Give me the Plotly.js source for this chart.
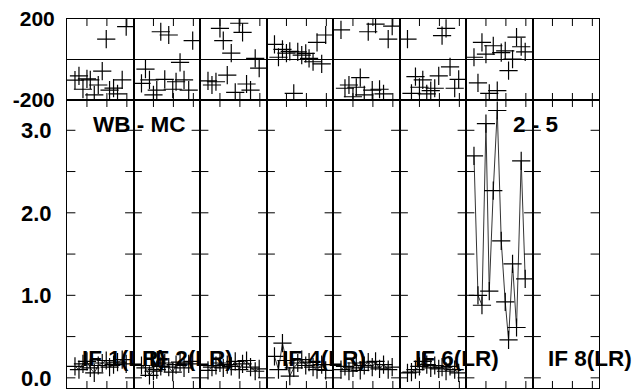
<!DOCTYPE html>
<html>
<head>
<meta charset="utf-8">
<script src="https://cdn.plot.ly/plotly-3.0.1.min.js"></script>
<style>html,body{margin:0;padding:0;background:#fff;}#chart{width:636px;height:391px;}</style>
</head>
<body>
<div id="chart"></div>
<script>
// Time samples (arbitrary units across each IF panel)
var times = [1.2, 1.8, 2.4, 3.0, 3.5, 4.1, 4.7, 5.3, 5.9, 6.4, 7.0, 7.6, 8.3, 8.9];

var ifLabels = ["IF 1(LR)", "IF 2(LR)", "", "IF 4(LR)", "", "IF 6(LR)", "", "IF 8(LR)"];

// Phase (degrees) per IF
var phaseIF1 = [-102, -81, -147, -96, -101, -175, -126, -57, 101, -151, -141, -170, -101, 162];
var phaseIF2 = [-118, -48, -101, -175, -151, 137, -98, 121, -147, -110, -14, -101, -151, 93];
var phaseIF3 = [-106, -126, -110, 154, 93, -77, 31, -162, 179, 134, -121, -151, 6, -43];
var phaseIF4 = [75, 11, 50, 31, 40, -167, 38, 22, 30, 6, -11, 85, -22, 121];
var phaseIF5 = [146, -142, -126, -184, -137, -90, -175, 137, -151, 175, -147, -170, 101, 165];
var phaseIF6 = [101, -167, -85, -137, -101, -170, -154, -142, -81, 118, 154, -36, -142, -98];
var phaseIF7 = [11, -115, 85, 27, -167, 68, -154, 34, 43, -55, 2, 110, 63, 38];
var phaseIF8 = [];

// Amplitude per IF
var ampIF1 = [0.14, 0.10, 0.17, 0.20, 0.12, 0.06, 0.15, 0.18, 0.21, 0.13, 0.16, 0.19, 0.22, 0.17];
var ampIF2 = [0.15, 0.12, 0.03, 0.08, 0.10, 0.14, 0.18, 0.13, 0.07, 0.16, 0.19, 0.12, 0.17, 0.20];
var ampIF3 = [0.09, 0.13, 0.15, 0.18, 0.12, 0.16, 0.14, 0.20, 0.10, 0.17, 0.21, 0.13, 0.08, 0.11];
var ampIF4 = [0.26, 0.10, 0.42, 0.21, 0.02, 0.12, 0.18, 0.22, 0.15, 0.19, 0.13, 0.10, 0.16, 0.09];
var ampIF5 = [0.10, 0.14, 0.08, 0.12, 0.18, 0.09, 0.15, 0.19, 0.13, 0.20, 0.11, 0.16, 0.10, 0.13];
var ampIF6 = [0.06, 0.07, 0.10, 0.14, 0.20, 0.16, 0.12, 0.15, 0.11, 0.13, 0.08, 0.14, 0.10, 0.06];
var ampIF7 = [2.69, 1.00, 0.88, 3.08, 1.05, 2.27, 3.24, 1.66, 0.92, 0.46, 1.38, 0.61, 2.63, 1.20];
var ampIF8 = [];

var phases = [phaseIF1, phaseIF2, phaseIF3, phaseIF4, phaseIF5, phaseIF6, phaseIF7, phaseIF8];
var amps = [ampIF1, ampIF2, ampIF3, ampIF4, ampIF5, ampIF6, ampIF7, ampIF8];

var ampTicks = [0, 0.5, 1, 1.5, 2, 2.5, 3];
var ampTickText = ["<b>0.0</b>", "", "<b>1.0</b>", "", "<b>2.0</b>", "", "<b>3.0</b>"];
var phaseTicks = [-200, 200];
var phaseTickText = ["<b>-200</b>", "<b>200</b>"];
var timeTicks = [3, 6, 9];

var FONT = "Liberation Sans, Arial, Helvetica, sans-serif";
var nPan = 8;
var marker = {symbol: "cross-thin", size: 13, color: "#000", line: {color: "#000", width: 1.2}};

var ampRange = [-0.123, 3.367];
var phRange = [-200, 200];
var timeRange = [0, 10];
var ampTop = 0.7805;
var annFont = {family: FONT, size: 22.5, color: "#000"};

function nm(n) { return n === 1 ? "" : String(n); }
function repeat(v, n) { var a = []; for (var k = 0; k < n; k++) a.push(v); return a; }

var traces = [];
var layout = {
  width: 636, height: 391,
  margin: {l: 67, r: 37, t: 19, b: 3},
  paper_bgcolor: "#fff", plot_bgcolor: "rgba(0,0,0,0)",
  showlegend: false,
  annotations: []
};

// tick-mark markers (half clipped at the panel edges, like inward ticks)
var yTickMark = {symbol: "line-ew", size: 12, color: "#000", line: {color: "#000", width: 1}};
var xTickMark = {symbol: "line-ns", size: 10, color: "#000", line: {color: "#000", width: 1}};

for (var i = 0; i < nPan; i++) {
  var a = i + 1, p = i + 1 + nPan;
  var dom = [i / nPan, (i + 1) / nPan];
  var xa = "x" + nm(a), ya = "y" + nm(a), xp = "x" + p, yp = "y" + p;

  layout["xaxis" + nm(a)] = {domain: dom, range: timeRange, anchor: ya, ticks: "", showticklabels: false,
    showgrid: false, zeroline: false, showline: true, linecolor: "#000", linewidth: 1, mirror: true};
  layout["yaxis" + nm(a)] = {domain: [0, ampTop], range: ampRange, anchor: xa,
    tickvals: ampTicks, ticktext: ampTickText, ticks: "", showticklabels: i === 0, ticklabelstandoff: 10,
    tickfont: {family: FONT, size: 22, color: "#000"},
    showgrid: false, zeroline: false, showline: true, linecolor: "#000", linewidth: 1, mirror: true};
  layout["xaxis" + p] = {domain: dom, range: timeRange, anchor: yp, ticks: "", showticklabels: false,
    showgrid: false, zeroline: false, showline: true, linecolor: "#000", linewidth: 1, mirror: true};
  layout["yaxis" + p] = {domain: [ampTop, 1], range: phRange, anchor: xp,
    tickvals: phaseTicks, ticktext: phaseTickText, ticks: "", showticklabels: i === 0, ticklabelstandoff: 7,
    tickfont: {family: FONT, size: 21, color: "#000"},
    showgrid: false, zeroline: true, zerolinecolor: "#000", zerolinewidth: 1,
    showline: true, linecolor: "#000", linewidth: 1, mirror: true};

  // data
  traces.push({x: times.slice(0, phases[i].length), y: phases[i], xaxis: xp, yaxis: yp,
    type: "scatter", mode: "markers", marker: marker, hoverinfo: "skip"});
  traces.push({x: times.slice(0, amps[i].length), y: amps[i], xaxis: xa, yaxis: ya,
    type: "scatter", mode: "lines+markers", line: {color: "#333", width: 1}, marker: marker, hoverinfo: "skip"});

  // amplitude-scale ticks on left and right panel edges
  traces.push({x: repeat(timeRange[0], ampTicks.length).concat(repeat(timeRange[1], ampTicks.length)),
    y: ampTicks.concat(ampTicks), xaxis: xa, yaxis: ya, type: "scatter", mode: "markers",
    marker: yTickMark, cliponaxis: true, hoverinfo: "skip"});
  // time ticks on top and bottom of the amplitude panel
  traces.push({x: timeTicks.concat(timeTicks),
    y: repeat(ampRange[0], timeTicks.length).concat(repeat(ampRange[1], timeTicks.length)),
    xaxis: xa, yaxis: ya, type: "scatter", mode: "markers", marker: xTickMark, cliponaxis: true, hoverinfo: "skip"});
  // time ticks on top and bottom of the phase panel
  traces.push({x: timeTicks.concat(timeTicks),
    y: repeat(phRange[0], timeTicks.length).concat(repeat(phRange[1], timeTicks.length)),
    xaxis: xp, yaxis: yp, type: "scatter", mode: "markers", marker: xTickMark, cliponaxis: true, hoverinfo: "skip"});

  if (ifLabels[i]) {
    layout.annotations.push({
      text: "<b>" + ifLabels[i] + "</b>", xref: xa + " domain", yref: ya, x: 0.2, y: 0.23,
      xanchor: "left", yanchor: "middle", showarrow: false, font: annFont
    });
  }
}

layout.annotations.push({text: "<b>WB - MC</b>", xref: "x domain", yref: "y", x: 1.09, y: 3.07, xanchor: "center", yanchor: "middle",
  showarrow: false, font: annFont});
layout.annotations.push({text: "<b>2 - 5</b>", xref: "x7 domain", yref: "y7", x: 1.05, y: 3.07, xanchor: "center", yanchor: "middle",
  showarrow: false, font: annFont});

Plotly.newPlot("chart", traces, layout, {staticPlot: true, displayModeBar: false});
</script>
</body>
</html>
